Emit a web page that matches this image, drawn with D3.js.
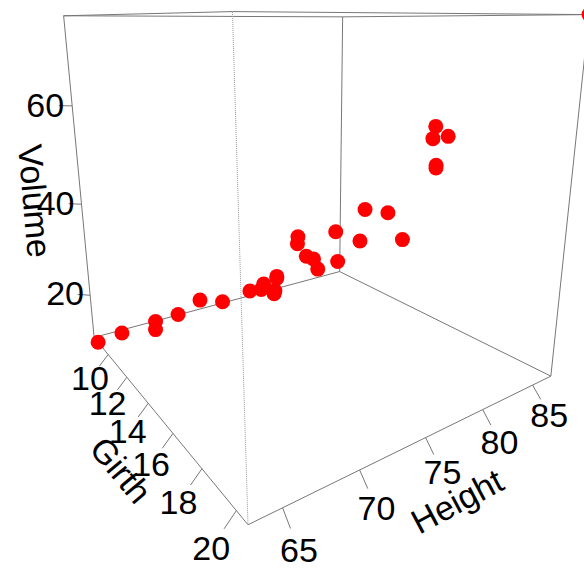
<!DOCTYPE html>
<html><head><meta charset="utf-8">
<style>html,body{margin:0;padding:0;background:#fff}svg{display:block}</style>
<script src="https://cdn.jsdelivr.net/npm/d3@7/dist/d3.min.js"></script></head><body>
<script>
const girth=[8.3,8.6,8.8,10.5,10.7,10.8,11.0,11.0,11.1,11.2,11.3,11.4,11.4,11.7,12.0,12.9,12.9,13.3,13.7,13.8,14.0,14.2,14.5,16.0,16.3,17.3,17.5,17.9,18.0,18.0,20.6];
const height=[70,65,63,72,81,83,66,75,80,75,79,76,76,69,75,74,85,86,71,64,78,80,74,72,77,81,82,80,80,80,87];
const volume=[10.3,10.3,10.2,16.4,18.8,19.7,15.6,18.2,22.6,19.9,24.2,21.0,21.4,21.3,19.1,22.2,33.8,27.4,25.7,24.9,34.5,31.7,36.3,38.3,42.6,55.4,55.7,58.3,51.5,51.0,77.0];
const girthTicks=[10,12,14,16,18,20], heightTicks=[65,70,75,80,85], volumeTicks=[20,40,60];
const X=d3.scaleLinear().domain(d3.extent(girth)).range([0,1]);
const Y=d3.scaleLinear().domain(d3.extent(height)).range([0,1]);
const Z=d3.scaleLinear().domain(d3.extent(volume)).range([0,1]);
// perspective camera matrix for the unit cube
const P=[61.5442,334.6289,-38.3235,94.1376,-7.9886,5.3602,-323.5881,337.4234,-0.37223,0.26233,-0.12283];
const proj=(x,y,z)=>{const w=P[8]*x+P[9]*y+P[10]*z+1;return[(P[0]*x+P[1]*y+P[2]*z+P[3])/w,(P[4]*x+P[5]*y+P[6]*z+P[7])/w];};
const svg=d3.select("body").append("svg").attr("width",584).attr("height",568);
const line=(a,b,c="#777",dash=null)=>{const p=proj(...a),q=proj(...b);svg.append("line").attr("x1",p[0]).attr("y1",p[1]).attr("x2",q[0]).attr("y2",q[1]).attr("stroke",c).attr("stroke-dasharray",dash);};
const edges=[[[0,0,0],[1,0,0]],[[1,0,0],[1,1,0]],[[1,1,0],[0,1,0]],[[0,1,0],[0,0,0]],[[0,0,1],[1,0,1]],[[1,0,1],[1,1,1]],[[1,1,1],[0,1,1]],[[0,1,1],[0,0,1]],[[0,0,0],[0,0,1]],[[1,1,0],[1,1,1]],[[0,1,0],[0,1,1]]];
edges.forEach(l=>line(...l));
line([1,0,0],[1,0,1],"#999","1 1");
const text=(s,p,size=34,rot=0)=>svg.append("text").attr("transform",`translate(${p[0]},${p[1]}) rotate(${rot})`).attr("text-anchor","middle").attr("dominant-baseline","central").attr("font-family","Liberation Sans").attr("font-size",size).attr("fill","#000").text(s);
const d=0.03,lab=0.061;
girthTicks.forEach(t=>{line([X(t),0,0],[X(t),-d,-d]);text(t,proj(X(t),-lab,-lab));});
heightTicks.forEach(t=>{line([1,Y(t),0],[1+d,Y(t),-d]);text(t,proj(1+lab,Y(t),-lab));});
volumeTicks.forEach(t=>{line([0,0,Z(t)],[-d,-d,Z(t)]);text(t,proj(-lab,-lab,Z(t)));});
girth.forEach((g,i)=>{const p=proj(X(g),Y(height[i]),Z(volume[i]));svg.append("circle").attr("cx",p[0]).attr("cy",p[1]).attr("r",7.5).attr("fill","#f00");});
text("Volume",[35,201],34,85);text("Girth",[121,470],34,50);text("Height",[457,501],34,-28);
</script></body></html>
